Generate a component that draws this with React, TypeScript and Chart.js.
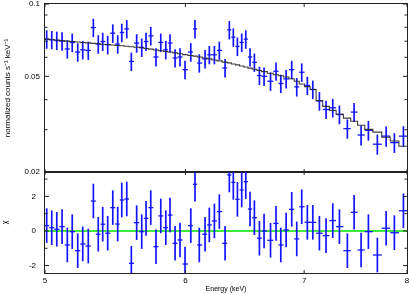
import React, { useEffect, useRef } from "react";
import { Chart, registerables } from "chart.js";
Chart.register(...registerables);

const FONT = "'Liberation Sans', Arial, Helvetica, sans-serif";

// Bin centres (keV)
const energyKeV = [
  5.011, 5.044, 5.077, 5.112, 5.147, 5.180, 5.217, 5.251, 5.289, 5.324,
  5.358, 5.389, 5.424, 5.460, 5.495, 5.524, 5.560, 5.593, 5.632, 5.669,
  5.701, 5.736, 5.775, 5.811, 5.849, 5.881, 5.920, 5.958, 5.997, 6.042,
  6.075, 6.109, 6.155, 6.189, 6.230, 6.270, 6.317, 6.352, 6.385, 6.419,
  6.455, 6.489, 6.525, 6.562, 6.605, 6.645, 6.701, 6.749, 6.791, 6.838,
  6.888, 6.933, 6.978, 7.029, 7.079, 7.140, 7.202, 7.265, 7.328, 7.404,
  7.469, 7.537, 7.609, 7.698, 7.786, 7.870, 7.963,
];

// Normalized counts s^-1 keV^-1
const counts = [
  0.0714, 0.0710, 0.0705, 0.0701, 0.0650, 0.0692, 0.0631, 0.0645, 0.0641, 0.0798,
  0.0681, 0.0698, 0.0677, 0.0756, 0.0681, 0.0761, 0.0788, 0.0577, 0.0688, 0.0660,
  0.0698, 0.0737, 0.0602, 0.0692, 0.0645, 0.0688, 0.0596, 0.0602, 0.0533, 0.0631,
  0.0788, 0.0568, 0.0591, 0.0615, 0.0615, 0.0641, 0.0542, 0.0781, 0.0728, 0.0666,
  0.0692, 0.0714, 0.0602, 0.0572, 0.0504, 0.0500, 0.0477, 0.0525, 0.0467, 0.0488,
  0.0533, 0.0452, 0.0520, 0.0458, 0.0441, 0.0395, 0.0364, 0.0370, 0.0347, 0.0303,
  0.0355, 0.0285, 0.0298, 0.0261, 0.0282, 0.0265, 0.0282,
];

const countErrors = [
  0.0063, 0.0062, 0.0062, 0.0062, 0.0057, 0.0061, 0.0056, 0.0057, 0.0056, 0.0070,
  0.0060, 0.0061, 0.0060, 0.0067, 0.0060, 0.0067, 0.0069, 0.0051, 0.0061, 0.0058,
  0.0061, 0.0065, 0.0053, 0.0061, 0.0057, 0.0061, 0.0052, 0.0053, 0.0047, 0.0056,
  0.0069, 0.0050, 0.0052, 0.0054, 0.0054, 0.0056, 0.0048, 0.0069, 0.0064, 0.0059,
  0.0061, 0.0063, 0.0053, 0.0050, 0.0044, 0.0044, 0.0042, 0.0046, 0.0041, 0.0043,
  0.0047, 0.0040, 0.0046, 0.0040, 0.0039, 0.0035, 0.0032, 0.0033, 0.0031, 0.0028,
  0.0032, 0.0027, 0.0028, 0.0025, 0.0027, 0.0025, 0.0028,
];

// Folded model per bin
const model = [
  0.0714, 0.0710, 0.0708, 0.0704, 0.0701, 0.0698, 0.0695, 0.0692, 0.0689, 0.0686,
  0.0683, 0.0680, 0.0678, 0.0675, 0.0672, 0.0670, 0.0667, 0.0664, 0.0661, 0.0658,
  0.0653, 0.0649, 0.0644, 0.0639, 0.0634, 0.0631, 0.0626, 0.0621, 0.0616, 0.0611,
  0.0607, 0.0602, 0.0596, 0.0591, 0.0585, 0.0580, 0.0573, 0.0569, 0.0563, 0.0558,
  0.0552, 0.0547, 0.0541, 0.0535, 0.0529, 0.0523, 0.0515, 0.0508, 0.0503, 0.0497,
  0.0489, 0.0477, 0.0465, 0.0453, 0.0441, 0.0397, 0.0375, 0.0361, 0.0348, 0.0335,
  0.0325, 0.0313, 0.0301, 0.0293, 0.0279, 0.0269, 0.0256,
];

// Residuals (chi)
const chi = [
  0.31, 0.19, 0.10, 0.25, -0.81, -0.04, -1.14, -0.75, -0.87, 1.73,
  -0.19, 0.39, -0.13, 1.35, 0.40, 1.79, 1.85, -1.87, 0.48, -0.04,
  0.73, 1.35, -0.91, 0.87, 0.19, 0.92, -0.71, -0.52, -1.91, 0.31,
  2.70, -0.81, -0.19, 0.35, 0.58, 1.12, -0.71, 3.24, 2.81, 1.83,
  2.37, 2.85, 1.27, 0.77, -0.42, 0.00, -0.54, 0.44, -0.81, 0.06,
  1.25, -0.46, 1.40, 0.50, 0.50, -0.13, -0.27, 0.60, 0.25, -1.14,
  1.08, -1.10, -0.04, -1.39, 0.16, -0.10, 1.17,
];
const chiError = 1;
const chiReference = 0;

const energyRange = [5, 8];
const countRange = [0.02, 0.1];
const chiRange = [-2.43, 3.41];

const energyTickValues = [5, 6, 7, 8];
const energyTickLabels = ["5", "6", "7", "8"];
const countTickValues = [0.02, 0.03, 0.04, 0.05, 0.06, 0.07, 0.08, 0.09, 0.1];
const countTickLabels = ["0.02", "", "", "0.05", "", "", "", "", "0.1"];
const countMajorTickValues = [0.02, 0.05, 0.1];
const chiTickValues = [-2, 0, 2];
const chiTickLabels = ["-2", "0", "2"];
const chiMinorTickValues = [-2, -1, 0, 1, 2, 3];
const chiMajorTickValues = [-2, 0, 2];

const n = energyKeV.length;
function binEdges(i: number): [number, number] {
  const e = energyKeV;
  const lo = i === 0 ? (e[0] * e[0]) / Math.sqrt(e[0] * e[1]) : Math.sqrt(e[i - 1] * e[i]);
  const hi = i === n - 1 ? (e[n - 1] * e[n - 1]) / Math.sqrt(e[n - 2] * e[n - 1]) : Math.sqrt(e[i] * e[i + 1]);
  return [lo, hi];
}

const BLUE = "rgb(20,20,255)";

function drawCrosses(chart: any, vals: number[], lows: number[], highs: number[]) {
  const { ctx, chartArea } = chart;
  const xs = chart.scales.x;
  const ys = chart.scales.y;
  ctx.save();
  ctx.beginPath();
  ctx.rect(chartArea.left, chartArea.top, chartArea.right - chartArea.left, chartArea.bottom - chartArea.top);
  ctx.clip();
  ctx.strokeStyle = BLUE;
  for (let i = 0; i < n; i++) {
    const [lo, hi] = binEdges(i);
    const x0 = xs.getPixelForValue(lo);
    const x1 = xs.getPixelForValue(hi);
    const xc = xs.getPixelForValue(energyKeV[i]);
    const y = ys.getPixelForValue(vals[i]);
    const yl = ys.getPixelForValue(lows[i]);
    const yh = ys.getPixelForValue(highs[i]);
    ctx.lineWidth = 1.3;
    ctx.beginPath();
    ctx.moveTo(x0, y);
    ctx.lineTo(x1, y);
    ctx.stroke();
    ctx.lineWidth = 1.7;
    ctx.beginPath();
    ctx.moveTo(xc, yl);
    ctx.lineTo(xc, yh);
    ctx.stroke();
  }
  ctx.restore();
}

function drawFrame(chart: any, yMinor: number[], yMajor: number[]) {
  const { ctx, chartArea } = chart;
  const { left, right, top, bottom } = chartArea;
  const xs = chart.scales.x;
  const ys = chart.scales.y;
  ctx.save();
  ctx.strokeStyle = "#222";
  ctx.lineWidth = 1;
  ctx.strokeRect(left - 0.5, top - 0.5, right - left + 1, bottom - top + 1);
  ctx.beginPath();
  for (const v of energyTickValues) {
    const x = xs.getPixelForValue(v);
    ctx.moveTo(x, top);
    ctx.lineTo(x, top + 3);
    ctx.moveTo(x, bottom);
    ctx.lineTo(x, bottom - 3);
  }
  for (const v of yMinor) {
    const y = ys.getPixelForValue(v);
    const len = yMajor.includes(v) ? 4 : 2.5;
    ctx.moveTo(left, y);
    ctx.lineTo(left + len, y);
    ctx.moveTo(right, y);
    ctx.lineTo(right - len, y);
  }
  ctx.stroke();
  ctx.restore();
}

export default function App() {
  const topRef = useRef<HTMLCanvasElement>(null);
  const botRef = useRef<HTMLCanvasElement>(null);

  useEffect(() => {
    const countLows = counts.map((c, i) => c - countErrors[i]);
    const countHighs = counts.map((c, i) => c + countErrors[i]);
    const chiLows = chi.map((c) => c - chiError);
    const chiHighs = chi.map((c) => c + chiError);

    const modelPoints: { x: number; y: number }[] = [];
    for (let i = 0; i < n; i++) {
      const [lo, hi] = binEdges(i);
      modelPoints.push({ x: lo, y: model[i] });
      modelPoints.push({ x: hi, y: model[i] });
    }

    const tickFont = { family: FONT, size: 8 };
    const titleFont = { family: FONT, size: 7 };
    const yTitleFont = { family: FONT, size: 8 };

    const a = new Chart(topRef.current!, {
      type: "scatter",
      data: {
        datasets: [
          {
            data: energyKeV.map((e, i) => ({ x: e, y: counts[i] })),
            pointRadius: 0,
            showLine: false,
          },
          {
            type: "line",
            data: modelPoints,
            borderColor: "rgba(40,40,40,0.9)",
            borderWidth: 1.1,
            pointRadius: 0,
            tension: 0,
          } as any,
        ],
      },
      options: {
        responsive: false,
        animation: false,
        devicePixelRatio: 1,
        layout: { padding: { left: 0, right: 2, top: 4, bottom: 122 } },
        plugins: { legend: { display: false }, tooltip: { enabled: false } },
        scales: {
          x: { type: "logarithmic", min: energyRange[0], max: energyRange[1], display: false },
          y: {
            type: "logarithmic",
            min: countRange[0],
            max: countRange[1],
            position: "left",
            afterBuildTicks: (s: any) => {
              s.ticks = countTickValues.map((v) => ({ value: v }));
            },
            afterFit: (s: any) => {
              s.width = 45;
              s.paddingTop = 0;
              s.paddingBottom = 0;
            },
            grid: { display: false, drawTicks: false },
            border: { display: false },
            ticks: {
              padding: 5,
              font: tickFont,
              color: "#000",
              autoSkip: false,
              callback: (_v: any, idx: number) => countTickLabels[idx],
            },
            title: {
              display: true,
              text: "normalized counts s\u207B\u00B9 keV\u207B\u00B9",
              font: yTitleFont,
              color: "#000",
              padding: { top: 3, bottom: 0 },
            },
          } as any,
        },
      },
      plugins: [
        {
          id: "dataCrosses",
          beforeDatasetsDraw: (chart: any) => drawCrosses(chart, counts, countLows, countHighs),
          afterDraw: (chart: any) => drawFrame(chart, countTickValues, countMajorTickValues),
        },
      ],
    } as any);

    const b = new Chart(botRef.current!, {
      type: "scatter",
      data: {
        datasets: [
          {
            type: "line",
            data: energyRange.map((e) => ({ x: e, y: chiReference })),
            borderColor: "#00e000",
            borderWidth: 1.5,
            pointRadius: 0,
          } as any,
          {
            data: energyKeV.map((e, i) => ({ x: e, y: chi[i] })),
            pointRadius: 0,
            showLine: false,
          },
        ],
      },
      options: {
        responsive: false,
        animation: false,
        devicePixelRatio: 1,
        layout: { padding: { left: 0, right: 2, top: 172, bottom: 0 } },
        plugins: { legend: { display: false }, tooltip: { enabled: false } },
        scales: {
          x: {
            type: "logarithmic",
            min: energyRange[0],
            max: energyRange[1],
            position: "bottom",
            afterBuildTicks: (s: any) => {
              s.ticks = energyTickValues.map((v) => ({ value: v }));
            },
            afterFit: (s: any) => {
              s.height = 21;
              s.paddingLeft = 0;
              s.paddingRight = 0;
            },
            grid: { display: false, drawTicks: false },
            border: { display: false },
            ticks: {
              padding: 3,
              font: tickFont,
              color: "#000",
              autoSkip: false,
              maxRotation: 0,
              callback: (_v: any, idx: number) => energyTickLabels[idx],
            },
            title: {
              display: true,
              text: "Energy (keV)",
              font: titleFont,
              color: "#000",
              padding: { top: 0, bottom: 1 },
            },
          } as any,
          y: {
            type: "linear",
            min: chiRange[0],
            max: chiRange[1],
            position: "left",
            afterBuildTicks: (s: any) => {
              s.ticks = chiTickValues.map((v) => ({ value: v }));
            },
            afterFit: (s: any) => {
              s.width = 45;
              s.paddingTop = 0;
              s.paddingBottom = 0;
            },
            grid: { display: false, drawTicks: false },
            border: { display: false },
            ticks: {
              padding: 9,
              font: tickFont,
              color: "#000",
              autoSkip: false,
              callback: (_v: any, idx: number) => chiTickLabels[idx],
            },
            title: {
              display: true,
              text: "\u03C7",
              font: titleFont,
              color: "#000",
              padding: { top: 1, bottom: 0 },
            },
          } as any,
        },
      },
      plugins: [
        {
          id: "chiCrosses",
          afterDatasetsDraw: (chart: any) => drawCrosses(chart, chi, chiLows, chiHighs),
          afterDraw: (chart: any) => drawFrame(chart, chiMinorTickValues, chiMajorTickValues),
        },
      ],
    } as any);

    return () => {
      a.destroy();
      b.destroy();
    };
  }, []);

  return (
    <div style={{ position: "fixed", left: 0, top: 0, width: 409, height: 294, background: "#fff" }}>
      <canvas ref={topRef} width={409} height={294} style={{ position: "absolute", left: 0, top: 0 }} />
      <canvas ref={botRef} width={409} height={294} style={{ position: "absolute", left: 0, top: 0 }} />
    </div>
  );
}
